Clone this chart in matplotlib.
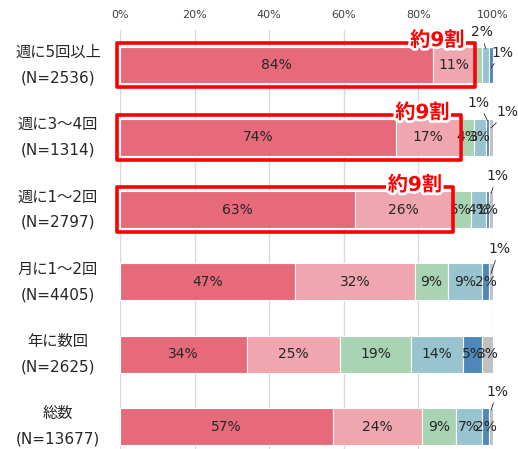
import matplotlib
matplotlib.use("Agg")
import matplotlib.pyplot as plt
import matplotlib.patheffects as pe
from matplotlib.patches import Rectangle
from matplotlib.transforms import blended_transform_factory
import numpy as np

plt.rcParams["font.family"] = ["DejaVu Sans", "Noto Sans CJK JP"]

# ─── Data ─────────────────────────────────────────────────────────────────────
groups = ["週に5回以上", "週に3～4回", "週に1～2回", "月に1～2回", "年に数回", "総数"]
counts = ["2536", "1314", "2797", "4405", "2625", "13677"]

seg1 = [84, 74, 63, 47, 34, 57]
seg2 = [11, 17, 26, 32, 25, 24]
seg3 = [2, 4, 5, 9, 19, 9]
seg4 = [2, 3, 4, 9, 14, 7]
seg5 = [1, 1, 1, 2, 5, 2]
seg6 = [0, 1, 1, 1, 3, 1]
series = [seg1, seg2, seg3, seg4, seg5, seg6]

# segments without an inside label (row, segment)
hidden = {(0, 2), (0, 3), (0, 4), (0, 5), (1, 4), (1, 5), (2, 5), (3, 5), (5, 5)}
# callouts: (row, segment, text dx, text dy, leader end dy) – dy from bar centre
callouts = [(0, 3, -1.0, -0.45, -0.23), (0, 4, 2.9, -0.17, 0.04),
            (1, 4, -2.3, -0.48, -0.23), (1, 5, 4.3, -0.35, -0.13),
            (2, 5, 1.6, -0.46, -0.23), (3, 5, 2.1, -0.45, -0.12),
            (5, 5, 1.6, -0.48, -0.23)]
boxed_rows = [0, 1, 2]
box_text = "約9割"

colors = ["#E76A7B", "#F0A6AF", "#A8D4B4", "#98C4CF", "#4F87BA", "#C0C0C0"]

# ─── Plot ─────────────────────────────────────────────────────────────────────
fig = plt.figure(figsize=(5.18, 4.49), dpi=100)
ax = fig.add_axes([120 / 518, 0, 373 / 518, 419 / 449])

y = np.arange(len(groups))
bh = 0.51
left = np.zeros(len(groups))
for k, vals in enumerate(series):
    vals = np.array(vals, dtype=float)
    ax.barh(y, vals, left=left, height=bh, color=colors[k],
            edgecolor="white", linewidth=0.8, zorder=2)
    for i, v in enumerate(vals):
        if (i, k) not in hidden and v > 0:
            ax.text(left[i] + v / 2, y[i], f"{int(v)}%", ha="center", va="center",
                    fontsize=10, color="#262626", zorder=4)
    left += vals

cum = np.cumsum(np.array(series, dtype=float), axis=0)
for i, k, dx, ty, py in callouts:
    v = series[k][i]
    xc = cum[k][i] - v / 2
    ax.annotate(f"{v}%", xy=(xc, y[i] + py), xytext=(xc + dx, y[i] + ty),
                ha="center", va="center", fontsize=10, color="#262626",
                annotation_clip=False,
                arrowprops=dict(arrowstyle="-", color="#262626", lw=0.6,
                                shrinkA=1, shrinkB=0))

for i in boxed_rows:
    right = seg1[i] + seg2[i] + 0.3
    ax.add_patch(Rectangle((-0.8, y[i] - 0.31), right + 0.8, 0.62, fill=False,
                           edgecolor="#FF0000", linewidth=2.6, joinstyle="round",
                           zorder=5, clip_on=False))
    ax.text(right - 3, y[i] - 0.34, box_text, ha="right", va="center",
            fontsize=14.5, fontweight="bold", color="#FF0000", zorder=6,
            path_effects=[pe.withStroke(linewidth=4, foreground="white")])

trans = blended_transform_factory(ax.transAxes, ax.transData)
for i, (g, n) in enumerate(zip(groups, counts)):
    ax.text(-0.166, y[i], f"{g}\n(N={n})", transform=trans, ha="center",
            va="center", multialignment="center", fontsize=11,
            linespacing=1.85, color="#262626")

ax.set_xlim(0, 100)
ax.set_ylim(5.311, -0.484)
ax.set_xticks(np.arange(0, 101, 20))
ax.set_xticklabels([f"{t}%" for t in range(0, 101, 20)])
ax.xaxis.tick_top()
ax.tick_params(axis="x", length=0, pad=7, labelsize=8, colors="#404040")
ax.set_yticks([])
ax.grid(axis="x", color="#D9D9D9", lw=1)
ax.set_axisbelow(True)
for s in ax.spines.values():
    s.set_visible(False)

plt.savefig("out.png", dpi=100)
plt.close()
